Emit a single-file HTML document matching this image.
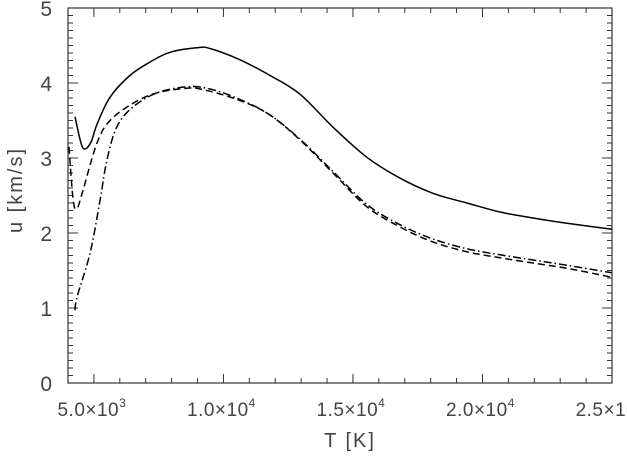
<!DOCTYPE html>
<html><head><meta charset="utf-8"><style>
html,body{margin:0;padding:0;background:#fff;}
svg{display:block;font-family:"Liberation Sans",sans-serif;}
</style></head><body>
<svg id="chart" width="627" height="456" viewBox="0 0 627 456" xmlns="http://www.w3.org/2000/svg">
<g id="axes"></g>
<g id="series"></g>
<text x="350" y="447" font-size="20" fill="#444" text-anchor="middle" letter-spacing="2">T [K]</text>
<text transform="translate(22,190) rotate(-90)" font-size="20" fill="#444" text-anchor="middle" letter-spacing="2">u [km/s]</text>
</svg>
<script>
const solidT = [4270,4500,4656,4900,5120,5620,6390,7170,7940,8980,9480,10640,11800,12960,14230,15540,16820,18090,19400,20680,21950,23260,25000];
const solidU = [3.55,3.2,3.12,3.22,3.45,3.81,4.1,4.28,4.41,4.47,4.46,4.31,4.1,3.85,3.41,3.01,2.73,2.53,2.4,2.28,2.2,2.13,2.05];
const dashT = [4040,4200,4350,4580,5120,5620,6510,7440,8590,9100,10360,11680,12960,14230,15540,16820,18090,19400,20680,21950,23260,25000];
const dashU = [3.15,2.44,2.33,2.57,3.2,3.5,3.73,3.87,3.93,3.92,3.8,3.6,3.24,2.8,2.35,2.08,1.88,1.75,1.67,1.6,1.53,1.41];
const dotT = [4270,4350,4850,5240,5500,5890,6510,7440,8590,9360,10360,11680,12960,14230,15540,16820,18090,19400,20680,21950,23260,25000];
const dotU = [0.97,1.15,1.73,2.44,2.97,3.42,3.68,3.87,3.95,3.93,3.82,3.6,3.25,2.82,2.38,2.11,1.92,1.79,1.71,1.64,1.57,1.47];
const xTicks = [5000,10000,15000,20000,25000];
const xTickLabels = ["5.0","1.0","1.5","2.0","2.5"];
const xTickExp = ["3","4","4","4","4"];
const yTicks = [0,1,2,3,4,5];

const L=68,R=612,T0=8,B=383;
const X0=4000,X1=25000,Y0=0,Y1=5;
const sx=v=>L+(v-X0)/(X1-X0)*(R-L);
const sy=v=>B-(v-Y0)/(Y1-Y0)*(B-T0);
const NS="http://www.w3.org/2000/svg";
const axes=document.getElementById('axes');
const ser=document.getElementById('series');
function mk(tag,attrs,parent){const e=document.createElementNS(NS,tag);for(const k in attrs)e.setAttribute(k,attrs[k]);parent.appendChild(e);return e;}

const frame=mk('rect',{x:L,y:T0,width:R-L,height:B-T0,fill:'none',stroke:'#333','stroke-width':1.2},axes);



let d='';
for(let v=X0;v<=X1;v+=1000){const x=sx(v);const len=(v%5000===0)?9:5;d+=`M${x},${B}v${-len}M${x},${T0}v${len}`;}
for(let i=0;i<=50;i++){const v=i/10;const y=sy(v);const len=(i%10===0)?10:5;d+=`M${L},${y}h${len}M${R},${y}h${-len}`;}
const tk=mk('path',{d:d,stroke:'#333','stroke-width':1,fill:'none'},axes);



xTicks.forEach((v,i)=>{
  const t=mk('text',{x:sx(v)-2,y:416,'font-size':19,fill:'#444','text-anchor':'middle','letter-spacing':0.5},axes);
  
  
  t.textContent=xTickLabels[i]+'×10';
  const s=mk('tspan',{dy:-9,'font-size':12},t);
  s.textContent=xTickExp[i];
});
yTicks.forEach(v=>{
  const t=mk('text',{x:52,y:sy(v)+8,'font-size':21,fill:'#444','text-anchor':'end'},axes);
  
  
  t.textContent=String(v);
});

function smooth(p){
  let s=`M${p[0][0].toFixed(1)},${p[0][1].toFixed(1)}`;
  for(let i=0;i<p.length-1;i++){
    const a=p[Math.max(0,i-1)],b=p[i],c=p[i+1],e=p[Math.min(p.length-1,i+2)];
    const c1=[b[0]+(c[0]-a[0])/6,b[1]+(c[1]-a[1])/6];
    const c2=[c[0]-(e[0]-b[0])/6,c[1]-(e[1]-b[1])/6];
    s+=`C${c1[0].toFixed(1)},${c1[1].toFixed(1)} ${c2[0].toFixed(1)},${c2[1].toFixed(1)} ${c[0].toFixed(1)},${c[1].toFixed(1)}`;
  }
  return s;
}
function line(xs,ys,dash,name){
  const pts=xs.map((v,i)=>[sx(v),sy(ys[i])]);
  const p=mk('path',{d:smooth(pts),fill:'none',stroke:'#000','stroke-width':1.5,'stroke-linejoin':'round'},ser);
  if(dash)p.setAttribute('stroke-dasharray',dash);
  
  
}
line(solidT,solidU,null,'solid-series');
line(dashT,dashU,'7,4','dashed-series');
line(dotT,dotU,'8,3,1.5,3','dash-dot-series');
</script>
</body></html>
